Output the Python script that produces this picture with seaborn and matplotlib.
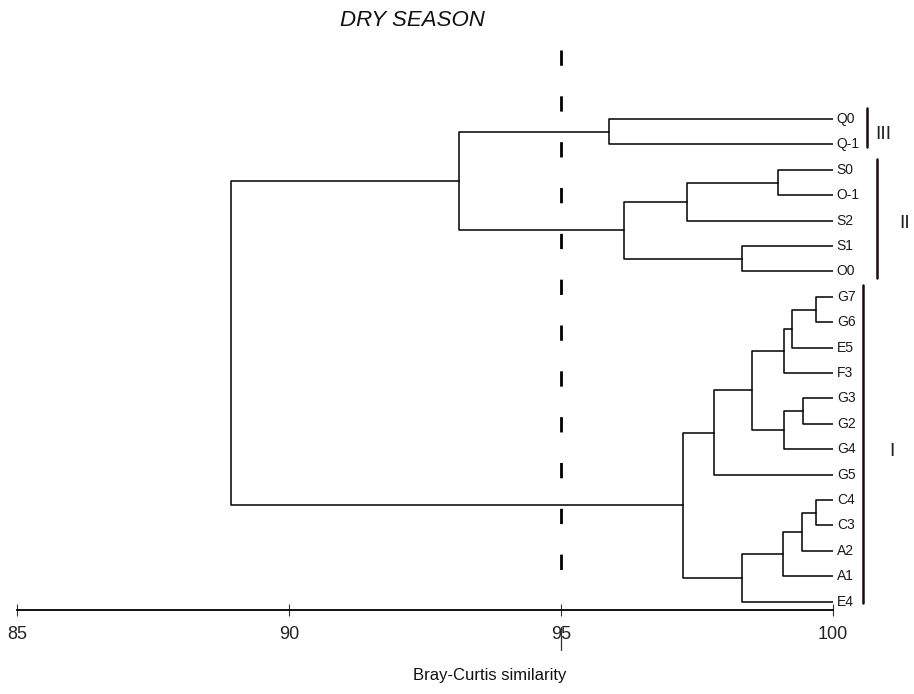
import matplotlib
matplotlib.use("Agg")
import matplotlib.pyplot as plt
from matplotlib import font_manager
import seaborn as sns
import pandas as pd

# Sites in dendrogram order (top to bottom)
leaves = ["Q0", "Q-1", "S0", "O-1", "S2", "S1", "O0",
          "G7", "G6", "E5", "F3", "G3", "G2", "G4", "G5",
          "C4", "C3", "A2", "A1", "E4"]

# Agglomeration steps: joined clusters and Bray-Curtis similarity (%)
merge_names = ["m1", "m2", "m3", "m4", "m5", "m6", "m7", "m8", "m9", "m10",
               "m11", "m12", "m13", "m14", "m15", "m16", "m17", "m18", "m19"]
merge_left = ["G7", "m1", "m2", "G3", "m4", "m3", "m6", "C4", "m8", "m9",
              "m10", "m7", "Q0", "S0", "m14", "S1", "m15", "m13", "m18"]
merge_right = ["G6", "E5", "F3", "G2", "G4", "m5", "G5", "C3", "A2", "A1",
               "E4", "m11", "Q-1", "O-1", "S2", "O0", "m16", "m17", "m12"]
merge_similarity = [99.69, 99.25, 99.10, 99.45, 99.10, 98.51, 97.81, 99.69,
                    99.43, 99.08, 98.33, 97.24, 95.88, 98.99, 97.32, 98.33,
                    96.16, 93.13, 88.93]

# Cluster groups marked on the right
group_labels = ["III", "II", "I"]
group_members = [["Q0", "Q-1"],
                 ["S0", "O-1", "S2", "S1", "O0"],
                 ["G7", "G6", "E5", "F3", "G3", "G2", "G4", "G5",
                  "C4", "C3", "A2", "A1", "E4"]]

x_ticks = [85, 90, 95, 100]
cut_level = 95

sns.set_theme(style="white")
available = {f.name for f in font_manager.fontManager.ttflist}
narrow = "Liberation Sans Narrow" if "Liberation Sans Narrow" in available else "Liberation Sans"
plt.rcParams["font.family"] = [narrow, "DejaVu Sans"]

W, H = 914, 694
fig = plt.figure(figsize=(W / 100, H / 100), dpi=100)
fig.patch.set_facecolor("white")

# axes placed in pixel terms: x 17..833, bottom spine at y=610
ax_left, ax_right, ax_top, ax_bottom = 17, 833, 40, 610
ax = fig.add_axes([ax_left / W, (H - ax_bottom) / H,
                   (ax_right - ax_left) / W, (ax_bottom - ax_top) / H])
ax.set_facecolor("white")

row_px = 25.4
first_px = 119
ax.set_xlim(85, 100)
ax.set_ylim((ax_bottom - first_px) / row_px, (ax_top - first_px) / row_px)

# node positions
pos = {name: (100.0, i) for i, name in enumerate(leaves)}
segments = []
for seg_id, (name, l, r, s) in enumerate(zip(merge_names, merge_left, merge_right, merge_similarity)):
    xl, yl = pos[l]
    xr, yr = pos[r]
    segments.append(pd.DataFrame({"x": [xl, s, s, xr], "y": [yl, yl, yr, yr], "seg": seg_id}))
    pos[name] = (s, (yl + yr) / 2)
lines = pd.concat(segments, ignore_index=True)

sns.lineplot(data=lines, x="x", y="y", units="seg", estimator=None, sort=False,
             color="black", linewidth=1.1, ax=ax, legend=False)

# leaf labels
for i, name in enumerate(leaves):
    ax.text(100.07, i, name, ha="left", va="center", fontsize=10, color="#1a1a1a",
            clip_on=False)

# similarity cut line
top_y = (50 - first_px) / row_px
bot_y = (582 - first_px) / row_px
ax.plot([cut_level, cut_level], [top_y, bot_y], color="black", linewidth=2.0,
        linestyle=(0, (5.5, 11)), clip_on=False, solid_capstyle="butt")

# group brackets
bar_x = [100.63, 100.81, 100.555]
label_x = [100.92, 101.32, 101.08]
bar_pad = [(0.43, 0.1), (0.43, 0.27), (0.48, 0.06)]
for lab, members, bx, lx, (pt, pb) in zip(group_labels, group_members, bar_x, label_x, bar_pad):
    idx = [leaves.index(m) for m in members]
    y0, y1 = min(idx) - pt, max(idx) + pb
    ax.plot([bx, bx], [y0, y1], color="#1a0a0a", linewidth=1.8, clip_on=False)
    ax.text(lx, (min(idx) + max(idx)) / 2 + 0.1, lab, ha="center", va="center",
            fontsize=14, color="#222222", clip_on=False)

# axis styling
sns.despine(ax=ax, left=True, top=True, right=True)
ax.spines["bottom"].set_linewidth(1.3)
ax.spines["bottom"].set_color("black")
ax.set_yticks([])
ax.set_ylabel("")
ax.set_xticks(x_ticks)
ax.set_xticklabels([str(t) for t in x_ticks])
ax.tick_params(axis="x", direction="inout", length=9, width=0.8, color="#333333",
               labelsize=13, labelcolor="#222222", pad=7, bottom=True)
ax.set_xlabel("Bray-Curtis similarity", fontsize=12, color="#111111")
ax.xaxis.set_label_coords((490 - ax_left) / (ax_right - ax_left),
                          -(668 - ax_bottom) / (ax_bottom - ax_top))

# stray stroke of the 95 tick running through its label
ax.plot([cut_level, cut_level], [(627 - first_px) / row_px, (650 - first_px) / row_px],
        color="#333333", linewidth=0.9, clip_on=False)

fig.text(412 / W, 1 - 21 / H, "DRY SEASON", ha="center", va="center",
         fontsize=16, fontstyle="italic", color="#111111")

fig.savefig("out.png", dpi=100, facecolor="white")
